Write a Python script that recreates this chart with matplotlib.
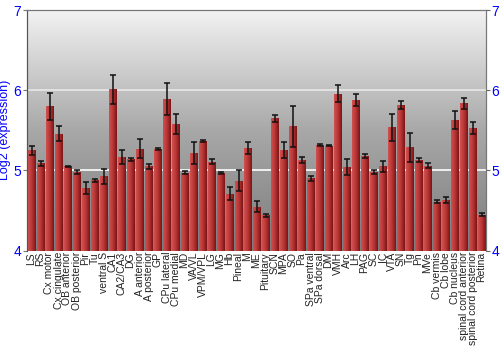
import numpy as np
import matplotlib
matplotlib.use('Agg')
import matplotlib.pyplot as plt
from matplotlib.colors import LinearSegmentedColormap

plt.rcParams['font.family'] = ['Liberation Sans', 'DejaVu Sans']

regions = ['LS', 'RS', 'Cx motor', 'Cx cingulate', 'OB anterior', 'OB posterior',
           'Pir', 'Tu', 'ventral S', 'CA1', 'CA2/CA3', 'DG', 'A anterior',
           'A posterior', 'GP', 'CPu lateral', 'CPu medial', 'MD', 'VA/VL',
           'VPM/VPL', 'LG', 'MG', 'Hb', 'Pineal', 'M', 'ME', 'Pituitary', 'SCN',
           'MPA', 'SO', 'Pa', 'SPa ventral', 'SPa dorsal', 'DM', 'VMH', 'Arc',
           'LH', 'PAG', 'SC', 'IC', 'VTA', 'SN', 'Tg', 'Pn', 'MVe', 'Cb vermis',
           'Cb lobe', 'Cb nucleus', 'spinal cord anterior',
           'spinal cord posterior', 'Retina']
expr = [5.25, 5.09, 5.80, 5.46, 5.05, 4.98, 4.78, 4.875, 4.925, 6.01, 5.17,
        5.14, 5.27, 5.05, 5.27, 5.89, 5.58, 4.97, 5.22, 5.37, 5.11, 4.97, 4.71,
        4.87, 5.28, 4.55, 4.44, 5.65, 5.25, 5.55, 5.13, 4.90, 5.32, 5.31, 5.96,
        5.04, 5.88, 5.18, 4.98, 5.05, 5.54, 5.82, 5.29, 5.13, 5.06, 4.61, 4.63,
        5.63, 5.84, 5.53, 4.45]
err = [0.06, 0.03, 0.165, 0.09, 0.01, 0.02, 0.08, 0.02, 0.09, 0.18, 0.09,
       0.02, 0.12, 0.03, 0.01, 0.2, 0.13, 0.02, 0.14, 0.01, 0.03, 0.01, 0.08,
       0.13, 0.07, 0.07, 0.02, 0.04, 0.1, 0.26, 0.04, 0.03, 0.01, 0.01, 0.1,
       0.1, 0.08, 0.02, 0.03, 0.07, 0.17, 0.05, 0.18, 0.02, 0.03, 0.02, 0.04,
       0.11, 0.07, 0.08, 0.02]

fig = plt.figure(figsize=(5, 3.5), dpi=100)
ax = fig.add_axes([0.054, 0.284, 0.918, 0.687])

x = np.arange(len(regions))
ax.set_xlim(-0.5, len(regions) - 0.5)
ax.set_ylim(4, 7)

# background gradient
bg = LinearSegmentedColormap.from_list('bg', ['#7c7c7c', '#a8a8a8', '#f2f2f2'])
grad = np.linspace(0, 1, 256).reshape(-1, 1)
ax.imshow(grad, cmap=bg, origin='lower', aspect='auto',
          extent=[-0.5, len(regions) - 0.5, 4, 7], zorder=0)

for yv, c in [(5, '#ffffff'), (6, '#e8e8e8')]:
    ax.axhline(yv, color=c, lw=1.2, zorder=1)

# bars with horizontal red gradient
bars = ax.bar(x, np.array(expr) - 4, bottom=4, width=0.88, color='none',
              edgecolor='none', zorder=2)
red = LinearSegmentedColormap.from_list('red', ['#d05050', '#b83535', '#7a1515'])
hgrad = np.linspace(0, 1, 64).reshape(1, -1)
for b in bars:
    x0, y0 = b.get_x(), b.get_y()
    im = ax.imshow(hgrad, cmap=red, aspect='auto', zorder=2,
                   extent=[x0, x0 + b.get_width(), y0, y0 + b.get_height()])
    im.set_clip_path(b)

ax.errorbar(x, expr, yerr=err, fmt='none', ecolor='#111111', elinewidth=1.1,
            capsize=2.2, capthick=1.1, zorder=3)
ax.set_xlim(-0.5, len(regions) - 0.5)
ax.set_ylim(4, 7)

ax.set_xticks(x)
ax.set_xticklabels(regions, rotation=90, fontsize=7.5, color='#222222')
ax.tick_params(axis='x', length=0, pad=1)
ax.set_yticks([4, 5, 6, 7])
ax.tick_params(axis='y', colors='#777777', labelcolor='blue', labelsize=10,
               length=3, pad=1)
ax.set_ylabel('Log2 (expression)', color='blue', fontsize=9, labelpad=2)

ax2 = ax.twinx()
ax2.set_ylim(4, 7)
ax2.set_yticks([4, 5, 6, 7])
ax2.tick_params(axis='y', colors='#666666', labelcolor='blue', labelsize=10,
                length=3, pad=1)

for a in (ax, ax2):
    a.spines['bottom'].set_visible(False)
    a.spines['top'].set_color('#777777')
    a.spines['left'].set_color('#555555')
    a.spines['right'].set_color('#777777')

fig.savefig('out.png', dpi=100)
